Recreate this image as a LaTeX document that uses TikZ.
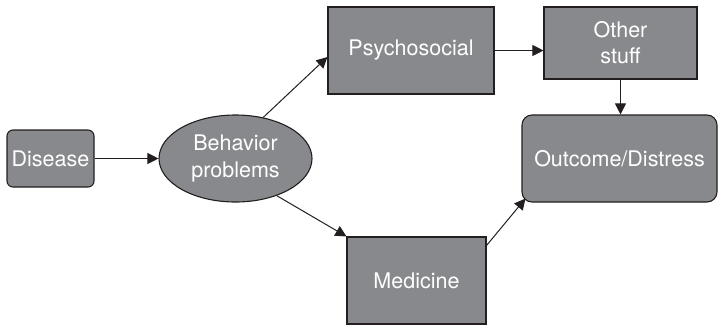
\documentclass[tikz,border=0pt]{standalone}
\usepackage{fontspec}
\setmainfont{TeX Gyre Heros}
\usetikzlibrary{arrows.meta,shapes.geometric}
\definecolor{boxgray}{HTML}{88898C}
\definecolor{inkline}{HTML}{231F20}
\begin{document}
\begin{tikzpicture}[x=1pt,y=-1pt,
  box/.style={draw=inkline, fill=boxgray, line width=1.1pt, text=white,
    font=\fontsize{21.5}{26}\selectfont, align=center, inner sep=0pt},
  link/.style={draw=inkline, line width=1pt,
    -{Triangle[length=11pt,width=11pt]}}]
\useasboundingbox (0,0) rectangle (719,325);

\node[box, rounded corners=6pt, minimum width=87pt, minimum height=57pt]
  (disease) at (50.5,158.5) {Disease};
\node[box, ellipse, minimum width=153pt, minimum height=87pt]
  (behav) at (235.5,158.5) {Behavior\\problems};
\node[box, minimum width=166pt, minimum height=87pt]
  (psych) at (411,50.5) {Psychosocial};
\node[box, minimum width=153pt, minimum height=72pt]
  (other) at (620.5,43) {Other\\stuff};
\node[box, rounded corners=10pt, minimum width=195pt, minimum height=87pt]
  (outcome) at (619.5,158.5) {Outcome/Distress};
\node[box, minimum width=139pt, minimum height=87pt]
  (medicine) at (416.5,280.5) {Medicine};

\draw[link] (disease.east) -- (behav.west);
\draw[link] (behav.56) -- ([yshift=-6.5pt]psych.west);
\draw[link] (psych.east) -- (other.west |- psych.east);
\draw[link] (other.south) -- (outcome.north -| other.south);
\draw[link] (behav.-42) -- (medicine.north west);
\draw[link] ([yshift=-9pt]medicine.north east) -- ([shift={(4pt,4pt)}]outcome.south west);
\end{tikzpicture}
\end{document}
